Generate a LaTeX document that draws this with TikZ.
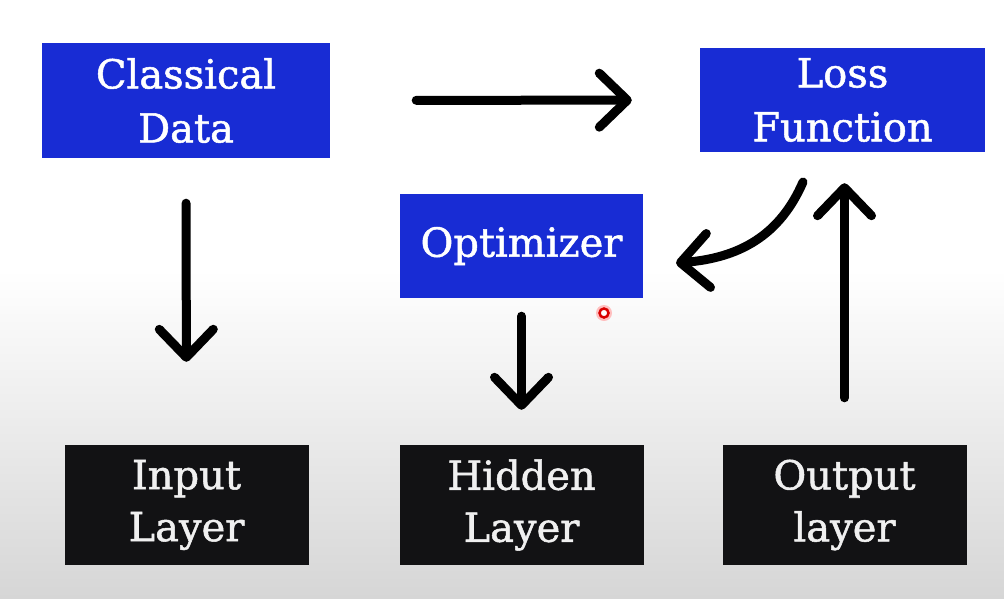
\documentclass[tikz,border=0pt]{standalone}
\usepackage{fontspec}
\setmainfont{DejaVu Serif}
\newfontfamily\boxfont[FakeBold=1.3]{DejaVu Serif}
\usetikzlibrary{arrows.meta}
\definecolor{boxblue}{RGB}{24,44,212}
\definecolor{boxblack}{RGB}{18,18,20}
\definecolor{bggray}{RGB}{214,214,214}
\definecolor{txtlight}{RGB}{240,240,240}
\tikzset{
  bluebox/.style={fill=boxblue, text=white, inner sep=0pt, align=center,
    font=\boxfont\fontsize{40}{54}\selectfont},
  blackbox/.style={fill=boxblack, text=txtlight, inner sep=0pt, align=center,
    minimum width=244pt, minimum height=120pt, font=\boxfont\fontsize{40}{52}\selectfont},
  arr/.style={line width=9pt, line cap=round, black,
    -{Straight Barb[round, length=28pt, width=54pt]}},
}
\begin{document}
\begin{tikzpicture}[x=1pt, y=-1pt]
  \useasboundingbox (0,0) rectangle (1004,598);
  \fill[white] (0,0) rectangle (1004,598);
  \shade[top color=white, bottom color=bggray] (0,270) rectangle (1004,598);

  \node[bluebox, minimum width=288pt, minimum height=115pt] (cd) at (186,100.5) {Classical\\Data};
  \node[bluebox, minimum width=285pt, minimum height=104pt] (lf) at (842.5,100) {Loss\\Function};
  \node[bluebox, minimum width=243pt, minimum height=104pt] (opt) at (521.5,246) {Optimizer};
  \node[blackbox] (in) at (186.5,505) {Input\\Layer};
  \node[blackbox] (hid) at (521.5,505) {Hidden\\Layer};
  \node[blackbox] (out) at (844.5,505) {Output\\layer};

  \draw[arr, shorten <=86pt, shorten >=68pt] (cd) -- (lf);
  \draw[arr, shorten <=45pt, shorten >=83pt] (cd.south) -- (in.north);
  \draw[arr, shorten <=18pt, shorten >=35pt] (opt.south) -- (hid.north);
  \draw[arr, shorten <=47pt, shorten >=31pt] (out.north) -- (out.north |- lf.south);

  \coordinate (cs) at (803,182);
  \coordinate (ce) at (676,263);
  \draw[arr] (cs) .. controls (780,235) and (740,258) .. (ce);

  \fill[red!25] (604,313) circle (8pt);
  \draw[red!85!black, line width=2.5pt, fill=white] (604,313) circle (4.5pt);
\end{tikzpicture}
\end{document}
